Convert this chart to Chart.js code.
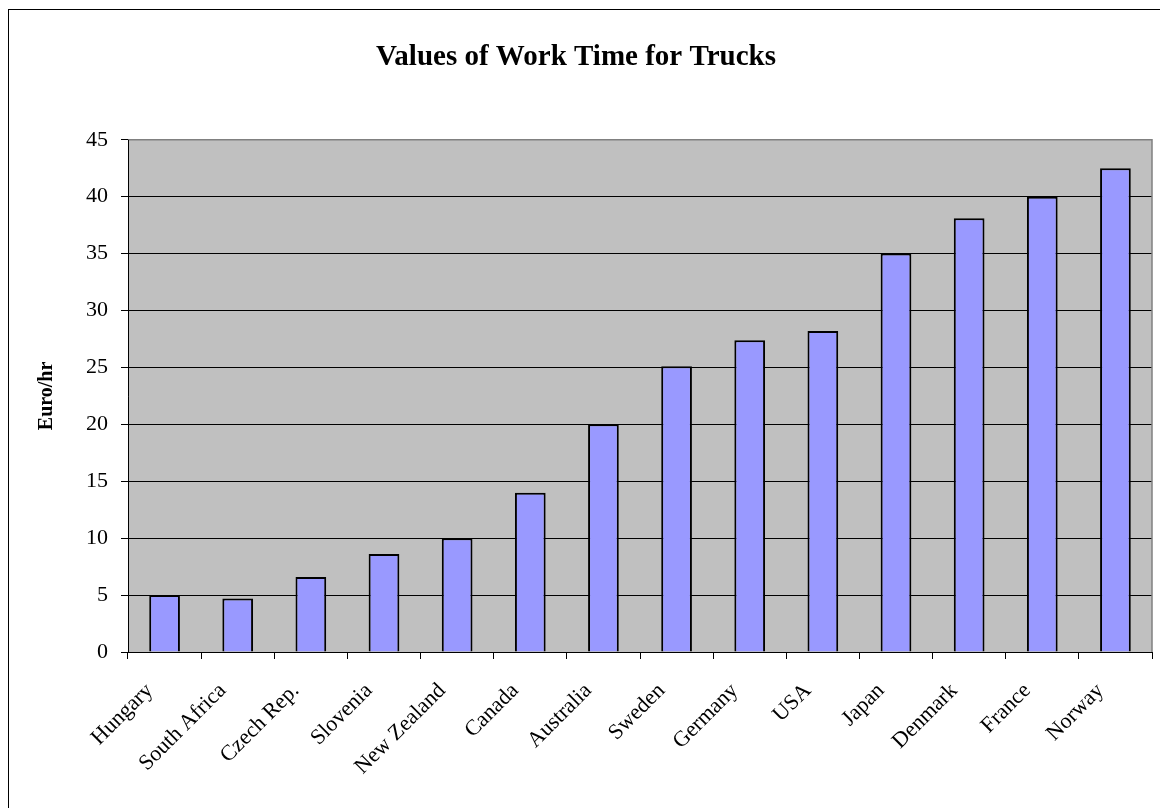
<!DOCTYPE html>
<html>
<head>
<meta charset="utf-8">
<script src="https://cdn.jsdelivr.net/npm/chart.js@4.4.0/dist/chart.umd.min.js"></script>
<style>
  html, body { margin: 0; padding: 0; background: #ffffff; }
  canvas { display: block; }
</style>
</head>
<body>
<canvas id="chart" width="1160" height="808"></canvas>
<script>
// Dados
const countries = ['Hungary', 'South Africa', 'Czech Rep.', 'Slovenia', 'New Zealand', 'Canada',
    'Australia', 'Sweden', 'Germany', 'USA', 'Japan', 'Denmark', 'France', 'Norway'];
const euroPerHour = [5.0, 4.7, 6.6, 8.6, 10.0, 14.0, 20.0, 25.1, 27.4, 28.2, 35.0, 38.1, 40.0, 42.5];
const yTicks = [0, 5, 10, 15, 20, 25, 30, 35, 40, 45];

const serif = "'Liberation Serif', 'Times New Roman', serif";

// Fundo cinza da área do gráfico + moldura externa
const framePlugin = {
    id: 'frame',
    beforeDraw(chart) {
        const ctx = chart.ctx;
        const a = chart.chartArea;
        ctx.save();
        ctx.fillStyle = '#ffffff';
        ctx.fillRect(0, 0, chart.width, chart.height);
        ctx.strokeStyle = '#000000';
        ctx.lineWidth = 1;
        ctx.strokeRect(8.5, 9.5, 1160, 820);
        ctx.fillStyle = '#c0c0c0';
        ctx.fillRect(a.left, a.top, a.right - a.left, a.bottom - a.top);
        ctx.restore();
    },
    afterDatasetsDraw(chart) {
        const ctx = chart.ctx;
        const a = chart.chartArea;
        ctx.save();
        ctx.strokeStyle = '#808080';
        ctx.lineWidth = 1.5;
        ctx.beginPath();
        ctx.moveTo(a.left, a.top);
        ctx.lineTo(a.right, a.top);
        ctx.lineTo(a.right, a.bottom);
        ctx.stroke();
        ctx.strokeStyle = '#000000';
        ctx.lineWidth = 1;
        ctx.beginPath();
        ctx.moveTo(a.left + 0.5, a.top);
        ctx.lineTo(a.left + 0.5, a.bottom + 0.5);
        ctx.lineTo(a.right, a.bottom + 0.5);
        ctx.stroke();
        ctx.restore();
    }
};

new Chart(document.getElementById('chart').getContext('2d'), {
    type: 'bar',
    data: {
        labels: countries,
        datasets: [{
            data: euroPerHour,
            backgroundColor: '#9999ff',
            borderColor: '#000000',
            borderWidth: 2,
            barPercentage: 0.42,
            categoryPercentage: 1.0
        }]
    },
    options: {
        responsive: false,
        animation: false,
        layout: { padding: { left: 0, right: 8, top: 0, bottom: 0 } },
        plugins: {
            legend: { display: false },
            tooltip: { enabled: false },
            title: {
                display: true,
                text: 'Values of Work Time for Trucks',
                color: '#000000',
                font: { family: serif, size: 29, weight: 'bold' },
                padding: { top: 40, bottom: 65 }
            }
        },
        scales: {
            x: {
                grid: {
                    offset: true,
                    drawOnChartArea: false,
                    drawTicks: true,
                    tickLength: 7,
                    color: '#000000'
                },
                border: { display: false },
                ticks: {
                    color: '#000000',
                    font: { family: serif, size: 22 },
                    minRotation: 45,
                    maxRotation: 45,
                    padding: 19,
                    labelOffset: -15,
                    autoSkip: false
                },
                afterFit(scale) { scale.height = 156; }
            },
            y: {
                min: 0,
                max: 45,
                afterBuildTicks(scale) { scale.ticks = yTicks.map(v => ({ value: v })); },
                grid: {
                    color: '#000000',
                    lineWidth: 1,
                    drawTicks: true,
                    tickLength: 7
                },
                border: { display: false },
                ticks: {
                    color: '#000000',
                    font: { family: serif, size: 22 },
                    padding: 13
                },
                title: {
                    display: true,
                    text: 'Euro/hr',
                    color: '#000000',
                    font: { family: serif, size: 20, weight: 'bold' },
                    padding: { top: 35, bottom: 0 }
                },
                afterFit(scale) { scale.width = 128; }
            }
        }
    },
    plugins: [framePlugin]
});
</script>
</body>
</html>
